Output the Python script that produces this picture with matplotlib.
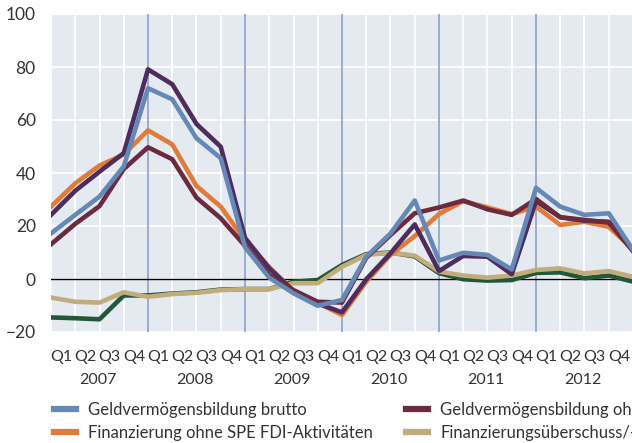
import numpy as np
import matplotlib
matplotlib.use('Agg')
import matplotlib.pyplot as plt
from matplotlib.lines import Line2D
import matplotlib.transforms as mtransforms

# quarterly values, Q1 2007 .. Q1 2013 (last point is cut off at the right edge)
years = ['2007', '2008', '2009', '2010', '2011', '2012']
quarters = ['Q1', 'Q2', 'Q3', 'Q4']

gvb_brutto = [17.2, 24.2, 31.1, 42.5, 72.0, 67.8, 53.1, 45.6, 12.0, 0.5, -5.4, -10.1, -7.9,
              8.4, 17.2, 29.6, 7.0, 9.9, 9.1, 3.6, 34.4, 27.3, 24.2, 24.8, 11.0]
fin_brutto = [24.2, 33.3, 40.5, 47.5, 79.1, 73.5, 58.5, 49.9, 15.5, 4.0, -4.5, -9.2, -12.6,
              -0.1, 9.7, 20.6, 3.0, 8.7, 8.4, 1.8, 29.4, 23.3, 22.0, 21.6, 10.5]
gvb_ohne_spe = [13.1, 20.8, 27.5, 41.5, 49.7, 45.2, 30.7, 22.9, 12.5, 1.5, -4.2, -8.6, -8.9,
                8.0, 16.6, 24.8, 27.0, 29.6, 26.3, 24.2, 30.2, 23.3, 22.3, 21.3, 10.8]
fin_ohne_spe = [27.3, 36.1, 42.8, 47.0, 56.1, 50.8, 35.1, 27.3, 14.5, 4.5, -4.5, -9.0, -13.6,
                -1.0, 9.1, 16.2, 24.5, 29.4, 27.0, 24.5, 27.3, 20.4, 21.6, 19.7, 11.2]
saldo = [-7.0, -8.6, -8.9, -5.0, -6.7, -5.7, -5.2, -4.2, -3.8, -3.8, -1.6, -1.6, 4.6,
         9.1, 9.9, 8.8, 2.8, 1.3, 0.5, 1.3, 3.4, 4.0, 2.1, 3.0, 0.8]
saldo_ohne_spe = [-14.5, -14.8, -15.2, -6.2, -6.2, -5.5, -5.0, -4.0, -3.8, -3.8, -1.0, -0.4, 5.3,
                  9.4, 10.0, 8.5, 2.2, -0.1, -0.6, -0.4, 2.3, 2.5, 0.3, 1.3, -1.0]

c_blue = '#6688b6'
c_maroon = '#6c2a3f'
c_orange = '#e07b39'
c_tan = '#c1ad7b'
c_purple = '#4d2c5e'
c_green = '#23573a'

plt.rcParams['font.family'] = ['Lato', 'DejaVu Sans']
plt.rcParams['font.size'] = 11

fig = plt.figure(figsize=(6.32, 4.43), dpi=100)
W, H = 632, 443
px_per_q = 24.25
xmax = 24.5
ax = fig.add_axes([51 / W, (H - 332) / H, xmax * px_per_q / W, 318 / H])
ax.set_facecolor('#e5eaf1')
for s in ax.spines.values():
    s.set_visible(False)

x = np.arange(len(gvb_brutto))
ax.set_xlim(0, xmax)
ax.set_ylim(-20, 100)

# grid
ax.set_xticks(np.arange(0, 25))
ax.set_yticks([-20, 0, 20, 40, 60, 80, 100])
ax.grid(True, color='white', lw=1.3, zorder=0)
ax.tick_params(axis='x', which='major', length=0, labelbottom=False)
ax.tick_params(axis='y', length=0, pad=11, labelsize=12.5, colors='#333333')
ax.set_yticklabels(['\u221220', '0', '20', '40', '60', '80', '100'])
ax.set_axisbelow(True)

for k in range(1, len(years)):
    ax.axvline(4 * k, color='#8ea8c9', lw=1.3, zorder=1)
ax.axhline(0, color='black', lw=1.0, zorder=1.5)

lw = 3.3
ax.plot(x, saldo_ohne_spe, color=c_green, lw=lw, zorder=2)
ax.plot(x, saldo, color=c_tan, lw=lw, zorder=3)
ax.plot(x, fin_ohne_spe, color=c_orange, lw=lw, zorder=4)
ax.plot(x, fin_brutto, color=c_purple, lw=lw, zorder=5)
ax.plot(x, gvb_ohne_spe, color=c_maroon, lw=lw, zorder=6)
ax.plot(x, gvb_brutto, color=c_blue, lw=lw, zorder=7)

# quarter labels between grid lines, years below
qpos = np.arange(24) + 0.42
ax.set_xticks(qpos, minor=True)
ax.set_xticklabels(quarters * len(years), minor=True)
ax.tick_params(axis='x', which='minor', length=0, pad=13, labelsize=11.5, colors='#333333')
trans = mtransforms.blended_transform_factory(ax.transData, ax.transAxes)
for k, yr in enumerate(years):
    ax.text(4 * k + 1.92, -0.151, yr, transform=trans, ha='center', va='center',
            fontsize=11.5, color='#333333')

handles = [
    Line2D([], [], color=c_blue, lw=4.5),
    Line2D([], [], color=c_orange, lw=4.5),
    Line2D([], [], color=c_maroon, lw=4.5),
    Line2D([], [], color=c_tan, lw=4.5),
]
labels = [
    'Geldverm\u00f6gensbildung brutto',
    'Finanzierung ohne SPE FDI-Aktivit\u00e4ten',
    'Geldverm\u00f6gensbildung ohne SPE FDI-Aktivit\u00e4ten',
    'Finanzierungs\u00fcberschuss/-defizit',
]
fig.legend(handles, labels, ncol=2, loc='upper left', bbox_to_anchor=(54 / W, 1 - 402 / H),
           frameon=False, fontsize=12, handlelength=1.32, handletextpad=0.72,
           columnspacing=2.0, labelspacing=0.42, borderaxespad=0, borderpad=0,
           labelcolor='#333333')

fig.savefig('out.png', dpi=100)
